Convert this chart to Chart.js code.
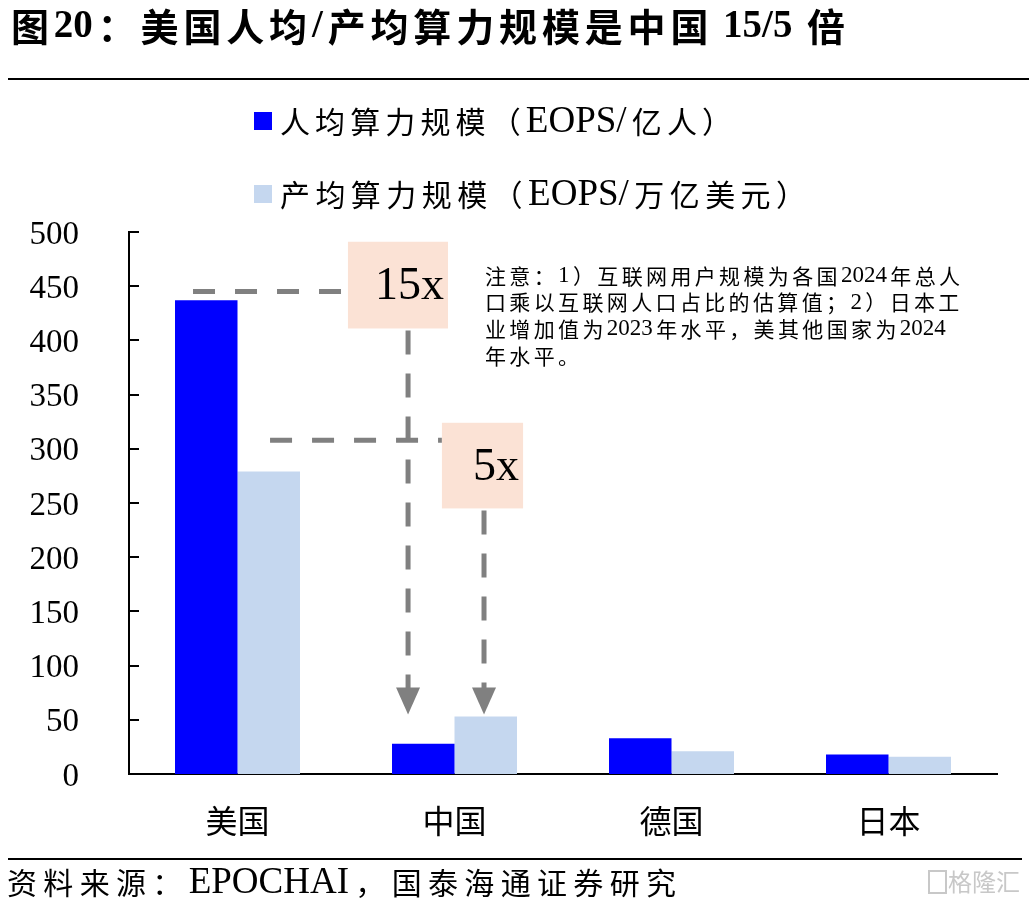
<!DOCTYPE html>
<html><head><meta charset="utf-8">
<script src="https://cdn.jsdelivr.net/npm/chart.js@4.4.1/dist/chart.umd.min.js"></script>
<style>html,body{margin:0;padding:0;background:#fff;overflow:hidden}#wrap{width:1029px;height:903px;position:relative}</style>
</head><body><div id="wrap"><canvas id="c"></canvas></div>
<script>
const categories = ['美国', '中国', '德国', '日本'];
const perCapita = [437, 28, 33, 18];
const perOutput = [279, 53, 21, 16];
const seriesNames = ['人均算力规模（EOPS/亿人）', '产均算力规模（EOPS/万亿美元）'];
const seriesColors = ['#0000ff', '#c5d7ef'];
const yMin = 0, yMax = 500, yStep = 50;
const titleText = '图20：美国人均/产均算力规模是中国 15/5 倍';
const sourceText = '资料来源：EPOCHAI，国泰海通证券研究';
const noteLines = ['注意：1）互联网用户规模为各国2024年总人', '口乘以互联网人口占比的估算值；2）日本工', '业增加值为2023年水平，美其他国家为2024', '年水平。'];
const ratioLabels = ['15x', '5x'];

const FONT = '"Liberation Serif", "Noto Sans CJK SC", serif';
const isWide = ch => ch.charCodeAt(0) > 0x2000;

// f = {cjk: font string, lat: font string}
function layoutMixed(ctx, text, f) {
  const chars = Array.from(text);
  let w = 0, n = 0;
  const items = chars.map((ch, i) => {
    ctx.font = isWide(ch) ? f.cjk : f.lat;
    const cw = ctx.measureText(ch).width;
    w += cw;
    const nx = chars[i + 1];
    const gap = nx !== undefined && (isWide(ch) || isWide(nx));
    if (gap) n++;
    return {ch, cw, gap};
  });
  return {items, w, n};
}
function drawMixed(ctx, text, x, y, f, target, extraOverride) {
  const L = layoutMixed(ctx, text, f);
  const extra = extraOverride !== undefined ? extraOverride : (target - L.w) / Math.max(1, L.n);
  let cx = x;
  L.items.forEach(it => {
    ctx.font = isWide(it.ch) ? f.cjk : f.lat;
    ctx.fillText(it.ch, cx, y);
    cx += it.cw + (it.gap ? extra : 0);
  });
  return extra;
}

const decor = {
  id: 'decor',
  afterDraw(chart) {
    const ctx = chart.ctx;
    const xs = chart.scales.x, ys = chart.scales.y;
    const ca = chart.chartArea;
    ctx.save();
    ctx.fillStyle = '#000';
    ctx.textBaseline = 'middle';
    ctx.textAlign = 'left';
    // title
    drawMixed(ctx, titleText, 11, 27, {cjk: 'bold 38px "Noto Sans CJK SC"', lat: 'bold 39px "Liberation Serif"'}, 834);
    // rules
    ctx.fillRect(8, 78, 1021, 2);
    ctx.fillRect(8, 858, 1014, 2);
    // legend
    const legY = [121, 194], legW = [452, 526];
    chart.data.datasets.forEach((ds, i) => {
      ctx.fillStyle = ds.backgroundColor;
      ctx.fillRect(254, legY[i] - 9, 18, 18);
      ctx.fillStyle = '#000';
      drawMixed(ctx, ds.label, 280, legY[i] + 1, {cjk: '30px "Noto Sans CJK SC"', lat: '37px "Liberation Serif"'}, legW[i]);
    });
    // footer
    drawMixed(ctx, sourceText, 7, 883, {cjk: '30px "Noto Sans CJK SC"', lat: '37px "Liberation Serif"'}, 669);
    ctx.fillStyle = '#c8c8c8';
    ctx.font = '24px "Noto Sans CJK SC"';
    ctx.fillText('格隆汇', 948, 882);
    ctx.strokeStyle = '#c8c8c8'; ctx.lineWidth = 2;
    ctx.strokeRect(929, 871, 17, 22);
    // note
    ctx.fillStyle = '#000';
    const nf = {cjk: '21px "Noto Sans CJK SC"', lat: '23px "Liberation Serif"'};
    const noteY = [276, 302.5, 329, 356];
    const ex = drawMixed(ctx, noteLines[0], 485, noteY[0], nf, 475);
    for (let i = 1; i < noteLines.length; i++) drawMixed(ctx, noteLines[i], 485, noteY[i], nf, 0, ex);

    // inward y ticks
    ctx.strokeStyle = '#000'; ctx.lineWidth = 2;
    ys.ticks.forEach(t => {
      const py = Math.round(ys.getPixelForValue(t.value));
      ctx.beginPath(); ctx.moveTo(ca.left, py); ctx.lineTo(ca.left + 10, py); ctx.stroke();
    });

    // annotations anchored to scales
    const c0 = xs.getPixelForValue(0), sp = xs.getPixelForValue(1) - c0;
    const X = u => c0 + u * sp;
    const Y = v => ys.getPixelForValue(v);
    ctx.strokeStyle = '#808080'; ctx.fillStyle = '#808080'; ctx.lineWidth = 5;
    ctx.setLineDash([22, 20]);
    ctx.beginPath(); ctx.moveTo(X(-0.205), Y(445)); ctx.lineTo(X(0.509), Y(445)); ctx.stroke();
    ctx.beginPath(); ctx.moveTo(X(0.150), Y(308)); ctx.lineTo(X(0.942), Y(308)); ctx.stroke();
    const arrow = (u, vTop, vTip) => {
      const x = X(u), tip = Y(vTip);
      ctx.setLineDash([24, 19]);
      ctx.beginPath(); ctx.moveTo(x, Y(vTop) + 2); ctx.lineTo(x, tip - 26); ctx.stroke();
      ctx.setLineDash([]);
      ctx.beginPath(); ctx.moveTo(x - 12, tip - 27); ctx.lineTo(x + 12, tip - 27); ctx.lineTo(x, tip); ctx.closePath(); ctx.fill();
    };
    arrow(0.786, 411, 55);
    arrow(1.136, 245, 55);
    ctx.setLineDash([]);
    // boxes
    const boxes = [
      {u0: 0.509, u1: 0.970, v0: 491, v1: 411, t: ratioLabels[0]},
      {u0: 0.942, u1: 1.316, v0: 324, v1: 245, t: ratioLabels[1]}
    ];
    ctx.font = '46px "Liberation Serif", serif';
    ctx.textAlign = 'right';
    boxes.forEach(b => {
      const x0 = X(b.u0), x1 = X(b.u1), y0 = Y(b.v0), y1 = Y(b.v1);
      ctx.fillStyle = '#fbe2d5';
      ctx.fillRect(x0, y0, x1 - x0, y1 - y0);
      ctx.fillStyle = '#000';
      ctx.fillText(b.t, x1 - 4, (y0 + y1) / 2 + 2);
    });
    ctx.restore();
  }
};

new Chart(document.getElementById('c'), {
  type: 'bar',
  data: {
    labels: categories,
    datasets: [
      {label: seriesNames[0], data: perCapita, backgroundColor: seriesColors[0], barPercentage: 1, categoryPercentage: 0.576},
      {label: seriesNames[1], data: perOutput, backgroundColor: seriesColors[1], barPercentage: 1, categoryPercentage: 0.576}
    ]
  },
  options: {
    responsive: true,
    maintainAspectRatio: false,
    animation: false,
    layout: {padding: {top: 232, right: 32, bottom: 0, left: 0}},
    plugins: {legend: {display: false}, title: {display: false}, tooltip: {enabled: false}},
    scales: {
      x: {
        grid: {display: false},
        border: {display: true, color: '#000', width: 2},
        ticks: {font: {family: FONT, size: 32}, color: '#000', padding: 23},
        afterFit: s => { s.height = 129; }
      },
      y: {
        min: yMin, max: yMax,
        grid: {display: false},
        border: {display: true, color: '#000', width: 2},
        ticks: {stepSize: yStep, font: {family: FONT, size: 33}, color: '#000', padding: 42, labelOffset: 3},
        afterFit: s => { s.width = 129; }
      }
    }
  },
  plugins: [decor]
});
</script></body></html>
